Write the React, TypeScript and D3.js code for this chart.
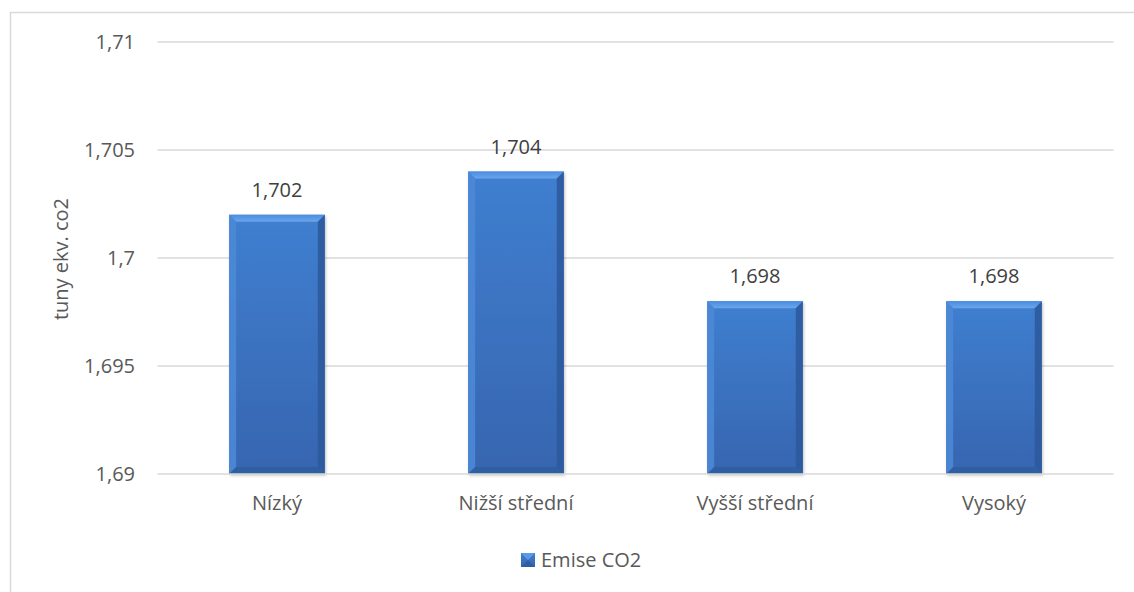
import React from "react";
import * as d3 from "d3";

const categories = ["Nízký", "Nižší střední", "Vyšší střední", "Vysoký"];
const values = [1.702, 1.704, 1.698, 1.698];
const valueLabels = ["1,702", "1,704", "1,698", "1,698"];
const yTicks = [1.69, 1.695, 1.7, 1.705, 1.71];
const yTickLabels = ["1,69", "1,695", "1,7", "1,705", "1,71"];
const seriesName = "Emise CO2";
const yTitle = "tuny ekv. co2";

const W = 1134;
const H = 592;
const font = "'Open Sans', 'Liberation Sans', sans-serif";
const textColor = "#595959";
const fs = 20;

export default function App() {
  const x = d3
    .scaleBand<string>()
    .domain(categories)
    .range([157.5, 1113.5])
    .paddingInner(0.6)
    .paddingOuter(0.3);
  const y = d3.scaleLinear().domain([1.69, 1.71]).range([474, 42]);
  const bev = 7;

  return (
    <svg
      width={W}
      height={H}
      style={{ position: "absolute", left: 0, top: 0 }}
      xmlns="http://www.w3.org/2000/svg"
    >
      <defs>
        <linearGradient id="face" x1="0" y1="0" x2="0" y2="1">
          <stop offset="0" stopColor="#3f7fd0" />
          <stop offset="1" stopColor="#3765b0" />
        </linearGradient>
        <linearGradient id="top" x1="0" y1="0" x2="0" y2="1">
          <stop offset="0" stopColor="#4a8de0" />
          <stop offset="1" stopColor="#6aa6ea" />
        </linearGradient>
        <filter id="sh" x="-20%" y="-20%" width="140%" height="140%">
          <feDropShadow dx="1" dy="1.5" stdDeviation="1.5" floodColor="#000" floodOpacity="0.25" />
        </filter>
      </defs>
      <rect x={0} y={0} width={W} height={H} fill="#fff" />
      <rect x={10.5} y={12.5} width={W + 20} height={H + 20} fill="none" stroke="#d9d9d9" strokeWidth={1.5} />
      {yTicks.map((t, i) => (
        <g key={t}>
          {i > 0 && (
            <line x1={157.5} x2={1113.5} y1={y(t)} y2={y(t)} stroke="#d9d9d9" strokeWidth={1.3} />
          )}
          <text
            x={135}
            y={y(t)}
            dy="0.35em"
            textAnchor="end"
            fontFamily={font}
            fontSize={fs}
            fill={textColor}
          >
            {yTickLabels[i]}
          </text>
        </g>
      ))}
      {categories.map((c, i) => {
        const x0 = x(c)!;
        const w = x.bandwidth();
        const y0 = y(values[i]);
        const y1 = y(1.69);
        const x1 = x0 + w;
        return (
          <g key={c}>
            <g filter="url(#sh)">
              <rect x={x0} y={y0} width={w} height={y1 - y0} fill="url(#face)" />
            </g>
            <polygon
              points={`${x0},${y0} ${x1},${y0} ${x1 - bev},${y0 + bev} ${x0 + bev},${y0 + bev}`}
              fill="url(#top)"
            />
            <polygon
              points={`${x0},${y0} ${x0 + bev},${y0 + bev} ${x0 + bev},${y1 - bev} ${x0},${y1}`}
              fill="#4b88d6"
              opacity={0.9}
            />
            <polygon
              points={`${x1},${y0} ${x1 - bev},${y0 + bev} ${x1 - bev},${y1 - bev} ${x1},${y1}`}
              fill="#2d5a9c"
              opacity={0.9}
            />
            <polygon
              points={`${x0},${y1} ${x0 + bev},${y1 - bev} ${x1 - bev},${y1 - bev} ${x1},${y1}`}
              fill="#2f5ea2"
              opacity={0.9}
            />
            <text
              x={x0 + w / 2}
              y={y0 - 25}
              dy="0.35em"
              textAnchor="middle"
              fontFamily={font}
              fontSize={fs}
              fill="#404040"
            >
              {valueLabels[i]}
            </text>
            <text
              x={x0 + w / 2}
              y={503}
              dy="0.35em"
              textAnchor="middle"
              fontFamily={font}
              fontSize={fs}
              fill={textColor}
            >
              {c}
            </text>
          </g>
        );
      })}
      <line x1={157.5} x2={1113.5} y1={y(1.69)} y2={y(1.69)} stroke="#d9d9d9" strokeWidth={1.3} />
      <text
        transform={`translate(61,259) rotate(-90)`}
        textAnchor="middle"
        dy="0.35em"
        fontFamily={font}
        fontSize={fs}
        fill={textColor}
      >
        {yTitle}
      </text>
      <g>
        <rect x={521} y={553} width={14} height={14} fill="url(#face)" />
        <polygon points="521,553 535,553 528,560" fill="#5a9ae6" />
        <polygon points="521,567 535,567 528,560" fill="#2f5ea2" />
        <text x={541} y={560} dy="0.35em" fontFamily={font} fontSize={fs} fill={textColor}>
          {seriesName}
        </text>
      </g>
    </svg>
  );
}
